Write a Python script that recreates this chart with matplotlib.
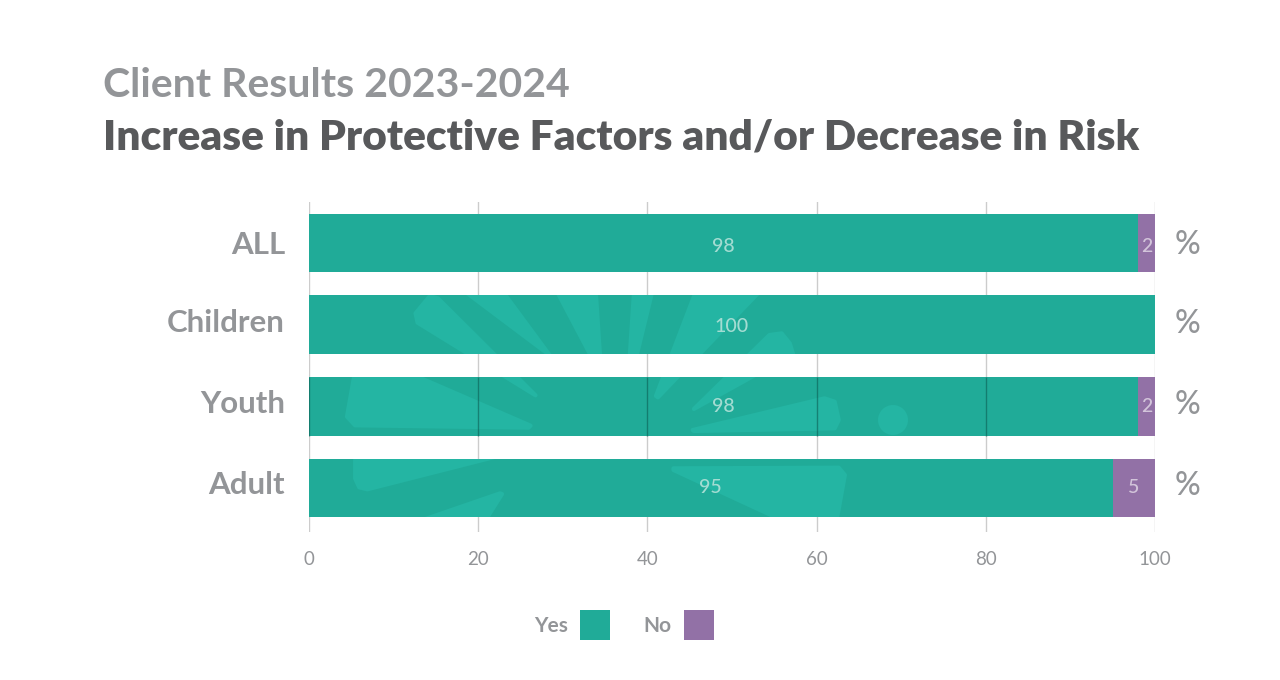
import matplotlib
matplotlib.use('Agg')
import matplotlib.pyplot as plt
from matplotlib.patches import Polygon, Ellipse
from matplotlib.transforms import Affine2D

categories = ['ALL', 'Children', 'Youth', 'Adult']
yes_values = [98, 100, 98, 95]
no_values = [2, 0, 2, 5]
x_ticks = [0, 20, 40, 60, 80, 100]

TEAL = '#20AB98'
TEAL_LIGHT = '#24B5A3'
PURPLE = '#9271A6'
GREY = '#939598'
DARK_GREY = '#58595B'
FONT = 'Lato'

plt.rcParams['font.family'] = FONT

# text rows sit a bit off the bar centres in the original
value_nudge = [0.05, 0.02, 0, -0.01]
side_nudge = [0.02, -0.02, -0.03, -0.04]


# background sunburst, only seen through the bars. numbers are crop pixels of the picture
def crop_px(points):
    return [(300 + x / 2.45, 280 + y / 3) for x, y in points]


children_shapes = [
    [(318, 48), (283, 100), (288, 128), (577, 346), (338, 55)],
    [(410, 40), (500, 40), (612, 226)],
    [(632, 40), (725, 40), (735, 226), (712, 226)],
    [(818, 40), (862, 40), (825, 226), (808, 226)],
    [(968, 40), (1122, 40), (877, 352), (872, 348)],
    [(1150, 165), (1180, 160), (1200, 190), (1208, 222), (965, 387)],
]
youth_shapes = [
    [(133, 286), (280, 286), (565, 437), (560, 443), (135, 436), (115, 410)],
    [(962, 450), (1285, 355), (1310, 365), (1320, 420), (1310, 445), (965, 453)],
]
adult_shapes = [
    [(135, 540), (480, 530), (165, 628), (145, 622), (135, 595)],
    [(915, 565), (1320, 563), (1335, 585), (1315, 720), (1180, 720), (915, 570)],
    [(495, 642), (455, 720), (300, 720), (490, 640)],
]

fig = plt.figure(figsize=(12.8, 6.8), dpi=100, facecolor='white')
ax = fig.add_axes([309 / 1280, 1 - 531.5 / 680, 846 / 1280, 329.5 / 680])
px = Affine2D().scale(1, -1).translate(0, 680)

ax.set_axisbelow(True)
ax.grid(axis='x', color='#CCCCCC', linewidth=1)
yes_bars = ax.barh(categories, yes_values, height=0.715, color=TEAL, zorder=2)
no_bars = ax.barh(categories, no_values, left=yes_values, height=0.715, color=PURPLE, zorder=2)

ax.set_xlim(0, 100)
ax.set_ylim(3.53, -0.5)
ax.set_xticks(x_ticks)


def add_shapes(shapes, row):
    for shape in shapes:
        poly = Polygon(crop_px(shape), closed=True, facecolor=TEAL_LIGHT, edgecolor=TEAL_LIGHT,
                       linewidth=3, joinstyle='round', transform=px, zorder=3)
        ax.add_artist(poly)
        poly.set_clip_path(yes_bars[row])


# the wedges that cross the gap between rows go through both bars
add_shapes(children_shapes, 1)
add_shapes(children_shapes, 2)
add_shapes(youth_shapes, 2)
add_shapes(adult_shapes, 3)
dot = Ellipse((893, 420), 30, 30, facecolor=TEAL_LIGHT, edgecolor='none', transform=px, zorder=3)
ax.add_artist(dot)
dot.set_clip_path(yes_bars[2])

# grid shows through the youth bar only
ax.vlines(x_ticks[:-1], 1.64, 2.36, color='#0B5F55', linewidth=1, alpha=0.6, zorder=4)

for i in range(len(categories)):
    ax.text(yes_values[i] / 2, i + value_nudge[i], str(yes_values[i]), color='#A3DCD2', fontsize=14,
            fontweight='medium', ha='center', va='center', zorder=5)
    if no_values[i] > 0:
        ax.text(yes_values[i] + no_values[i] / 2, i + value_nudge[i], str(no_values[i]), color='#D2C4DA',
                fontsize=14, fontweight='medium', ha='center', va='center', zorder=5)
    ax.text(103.9, i + side_nudge[i] + 0.01, '%', color=GREY, fontsize=23, fontweight='medium',
            ha='center', va='center', clip_on=False)
    ax.text(-2.84, i + side_nudge[i], categories[i], color=GREY, fontsize=22.5, fontweight='bold',
            ha='right', va='center', clip_on=False)

for spine in ax.spines.values():
    spine.set_visible(False)
ax.tick_params(axis='x', length=0, pad=14, labelsize=13.5, labelcolor=GREY)
ax.tick_params(axis='y', length=0, labelleft=False)

fig.text(103 / 1280, 1 - 97 / 680, 'Client Results 2023-2024', color=GREY, fontsize=29.5,
         fontweight='bold', ha='left', va='baseline')
fig.text(103 / 1280, 1 - 150 / 680, 'Increase in Protective Factors and/or Decrease in Risk',
         color=DARK_GREY, fontsize=30.5, fontweight='heavy', ha='left', va='baseline')

leg = fig.legend([yes_bars[0], no_bars[0]], ['Yes', 'No'], ncols=2, markerfirst=False, frameon=False,
                 loc='center', bbox_to_anchor=(624 / 1280, 1 - 625 / 680),
                 prop={'size': 15, 'weight': 'bold', 'family': FONT},
                 handlelength=1.44, handleheight=1.82, handletextpad=0.57, columnspacing=1.62,
                 labelcolor=GREY)

plt.savefig('out.png', dpi=100)
